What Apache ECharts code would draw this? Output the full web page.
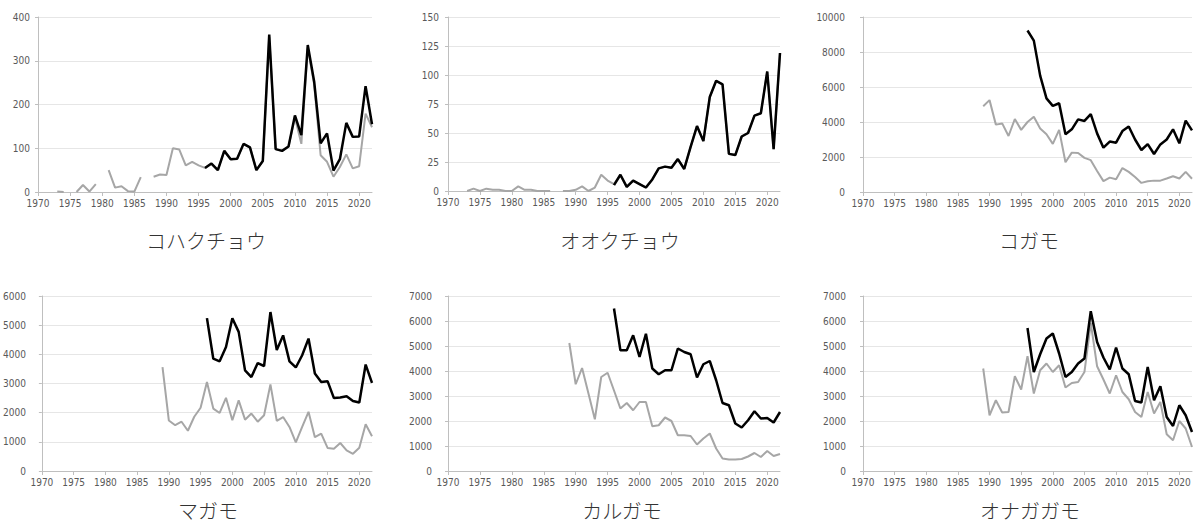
<!DOCTYPE html>
<html>
<head>
<meta charset="utf-8">
<script src="https://cdn.jsdelivr.net/npm/echarts@6/dist/echarts.min.js"></script>
<style>
  html, body { margin: 0; padding: 0; background: #fff; }
  #main { width: 1196px; height: 526px; }
</style>
</head>
<body>
<div id="main"></div>
<script>
// species names (panel titles)
var names = ['コハクチョウ', 'オオクチョウ', 'コガモ', 'マガモ', 'カルガモ', 'オナガガモ'];

// gray series (first year + values), black series (first year + values)
var kohakuGrayStart = 1973;
var kohakuGray = [1, 0, null, 0, 16, 1, 18, null, 50, 10, 13, 2, 1, 34, null, 35, 40, 39, 100, 97, 61, 69, 61, 55,
	65, 50, 94, 75, 76, 110, 102, 50, 71, 355, 98, 94, 104, 170, 110, 330, 245, 84, 69, 35, 57, 86, 54, 59, 179, 148];
var kohakuBlackStart = 1996;
var kohakuBlack = [55, 65, 50, 94, 75, 76, 110, 102, 50, 71, 360, 98, 94, 104, 175, 130, 336, 252, 111, 134, 49, 75, 158, 126, 127, 242, 155];

var ooGrayStart = 1973;
var ooGray = [0, 2, 0, 2, 1, 1, 0, 0, 4, 1, 1, 0, 0, 0, null, 0, 0, 1, 4, 0, 3, 14, 9, 6,
	14, 3.5, 9, 6, 3, 10, 19.5, 21, 20, 27.5, 19, 38, 56, 43, 81, 95, 92, 32, 31, 47, 50, 65, 67, 103, 36, 119];
var ooBlackStart = 1996;
var ooBlack = [5, 14, 3.5, 9, 6, 3, 10, 19.5, 21, 20, 27.5, 19, 38, 56, 43, 81, 95, 92, 32, 31, 47, 50, 65, 67, 103, 36, 119];

var kogamoGrayStart = 1989;
var kogamoGray = [4900, 5250, 3850, 3920, 3200, 4170, 3550, 4000, 4300, 3630, 3300, 2750, 3550, 1700, 2250, 2230, 1950,
	1820, 1200, 620, 820, 730, 1370, 1150, 860, 520, 610, 650, 650, 770, 900, 770, 1150, 760];
var kogamoBlackStart = 1996;
var kogamoBlack = [9230, 8650, 6650, 5350, 4920, 5070, 3300, 3580, 4150, 4060, 4450, 3350, 2530, 2880, 2820, 3480, 3740,
	3000, 2400, 2740, 2170, 2720, 3000, 3580, 2780, 4080, 3520];

var magamoGrayStart = 1989;
var magamoGray = [3560, 1730, 1570, 1690, 1380, 1860, 2170, 3050, 2140, 1990, 2510, 1740, 2420, 1760, 1970, 1690, 1910,
	2970, 1720, 1850, 1510, 980, 1510, 2030, 1160, 1280, 790, 760, 960, 710, 590, 800, 1600, 1190];
var magamoBlackStart = 1996;
var magamoBlack = [5240, 3850, 3760, 4250, 5240, 4770, 3450, 3220, 3700, 3600, 5450, 4150, 4650, 3760, 3550, 3970, 4540,
	3340, 3050, 3080, 2500, 2520, 2560, 2400, 2350, 3650, 3020];

var karugamoGrayStart = 1989;
var karugamoGray = [5120, 3470, 4120, 3100, 2070, 3760, 3930, 3220, 2500, 2720, 2430, 2760, 2760, 1790, 1830, 2140, 2000,
	1430, 1430, 1400, 1060, 1300, 1500, 900, 500, 460, 460, 480, 580, 720, 560, 800, 600, 680];
var karugamoBlackStart = 1996;
var karugamoBlack = [6500, 4830, 4830, 5430, 4560, 5490, 4100, 3870, 4030, 4030, 4900, 4760, 4670, 3740, 4270, 4400, 3630,
	2720, 2630, 1900, 1740, 2030, 2390, 2100, 2120, 1940, 2360];

var onagaGrayStart = 1989;
var onagaGray = [4100, 2230, 2830, 2340, 2360, 3790, 3260, 4590, 3100, 4030, 4300, 3960, 4230, 3340, 3520, 3560, 3960,
	5920, 4190, 3660, 3100, 3830, 3160, 2870, 2360, 2160, 3160, 2300, 2760, 1470, 1230, 2000, 1700, 960];
var onagaBlackStart = 1996;
var onagaBlack = [5720, 3960, 4670, 5300, 5500, 4700, 3760, 3960, 4300, 4500, 6390, 5160, 4540, 4060, 4940, 4100, 3870,
	2800, 2740, 4160, 2830, 3390, 2160, 1800, 2630, 2230, 1560];

// y axis max / interval for each panel
var yMax = [400, 150, 10000, 6000, 7000, 7000];
var yStep = [100, 25, 2000, 1000, 1000, 1000];

var xMin = 1970, xMax = 2022, xStep = 5;

var panels = [
	[kohakuGrayStart, kohakuGray, kohakuBlackStart, kohakuBlack],
	[ooGrayStart, ooGray, ooBlackStart, ooBlack],
	[kogamoGrayStart, kogamoGray, kogamoBlackStart, kogamoBlack],
	[magamoGrayStart, magamoGray, magamoBlackStart, magamoBlack],
	[karugamoGrayStart, karugamoGray, karugamoBlackStart, karugamoBlack],
	[onagaGrayStart, onagaGray, onagaBlackStart, onagaBlack]
];

// layout of the six plot areas
var gridBox = [
	{ left: 38, top: 17, width: 334, height: 175 },
	{ left: 448, top: 17, width: 332, height: 174 },
	{ left: 863, top: 17, width: 329, height: 175 },
	{ left: 38, top: 296, width: 334, height: 175 },
	{ left: 448, top: 296, width: 332, height: 175 },
	{ left: 863, top: 296, width: 329, height: 175 }
];
var labelMargin = [8, 9, 18, 16, 16, 17];
var titlePos = [[206, 240], [620, 240], [1029, 240], [208, 510], [622, 510], [1030, 510]];

function toPairs(start, values) {
	var out = [];
	for (var i = 0; i < values.length; i++) {
		out.push([start + i, values[i]]);
	}
	return out;
}

var axisFont = 'Liberation Sans Narrow, DejaVu Sans Condensed, Liberation Sans, sans-serif';

var grids = [], xAxes = [], yAxes = [], series = [], texts = [];
for (var i = 0; i < 6; i++) {
	grids.push({ left: gridBox[i].left, top: gridBox[i].top, width: gridBox[i].width, height: gridBox[i].height });
	xAxes.push({
		gridIndex: i,
		type: 'value',
		min: xMin,
		max: xMax,
		interval: xStep,
		axisLine: { lineStyle: { color: '#bfbfbf', width: 1 } },
		axisTick: { show: true, length: 4, lineStyle: { color: '#bfbfbf' } },
		axisLabel: {
			color: '#595959',
			fontSize: 10,
			fontFamily: axisFont,
			margin: 6,
			showMaxLabel: false,
			formatter: function (v) { return v % 5 === 0 ? String(v) : ''; }
		},
		splitLine: { show: false }
	});
	yAxes.push({
		gridIndex: i,
		type: 'value',
		min: 0,
		max: yMax[i],
		interval: yStep[i],
		axisLine: { show: true, lineStyle: { color: '#bfbfbf', width: 1 } },
		axisTick: { show: true, length: 3, lineStyle: { color: '#bfbfbf' } },
		axisLabel: {
			color: '#595959',
			fontSize: 10,
			fontFamily: axisFont,
			margin: labelMargin[i],
			formatter: function (v) { return String(v); }
		},
		splitLine: { show: true, lineStyle: { color: '#e6e6e6', width: 1 } }
	});
	series.push({
		type: 'line',
		xAxisIndex: i,
		yAxisIndex: i,
		data: toPairs(panels[i][0], panels[i][1]),
		symbol: 'none',
		connectNulls: false,
		lineStyle: { color: '#a6a6a6', width: 2 },
		z: 2
	});
	series.push({
		type: 'line',
		xAxisIndex: i,
		yAxisIndex: i,
		data: toPairs(panels[i][2], panels[i][3]),
		symbol: 'none',
		lineStyle: { color: '#000000', width: 2.5 },
		z: 3
	});
	texts.push({
		type: 'text',
		x: titlePos[i][0],
		y: titlePos[i][1],
		style: {
			text: names[i],
			fill: '#333333',
			font: '300 20px "Noto Sans CJK JP", sans-serif',
			textAlign: 'center',
			textVerticalAlign: 'middle'
		}
	});
}

var chart = echarts.init(document.getElementById('main'), null, { renderer: 'svg' });
chart.setOption({
	animation: false,
	backgroundColor: '#ffffff',
	grid: grids,
	xAxis: xAxes,
	yAxis: yAxes,
	series: series,
	graphic: texts
});
</script>
</body>
</html>
